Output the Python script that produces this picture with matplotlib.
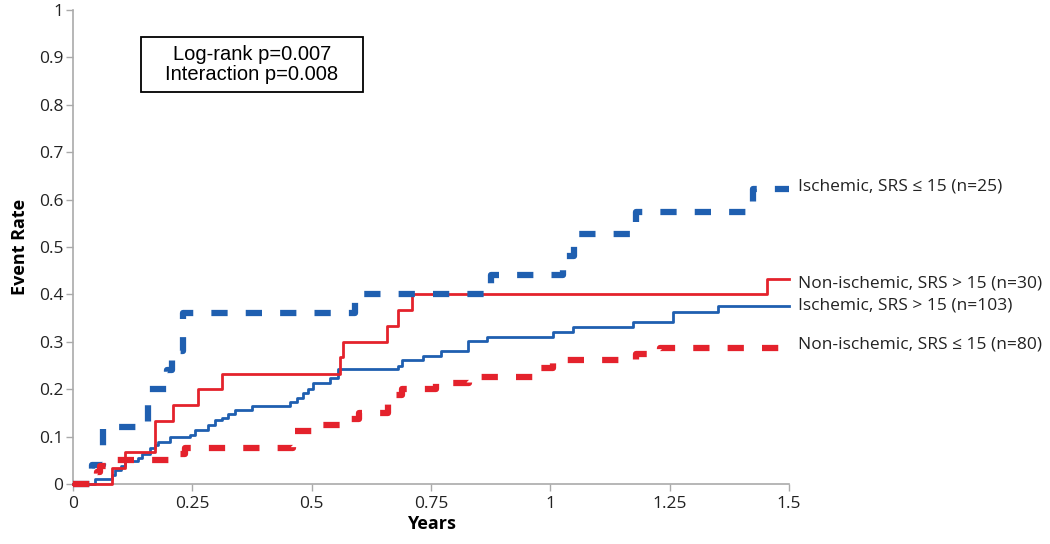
import numpy as np
import matplotlib

matplotlib.use("Agg")
import matplotlib.pyplot as plt  # noqa: E402
from matplotlib.patches import Rectangle  # noqa: E402

# ---------------------------------------------------------------- data
isch_low_x = [0, 0.04, 0.063, 0.157, 0.197, 0.207, 0.23, 0.59, 0.875, 1.027, 1.05, 1.18, 1.425, 1.5]
isch_low_y = [0, 0.04, 0.12, 0.20, 0.24, 0.28, 0.36, 0.40, 0.44, 0.48, 0.527, 0.573, 0.622, 0.622]

nonisch_high_x = [0, 0.082, 0.109, 0.172, 0.21, 0.262, 0.312, 0.56, 0.566, 0.658, 0.68, 0.71, 1.455, 1.5]
nonisch_high_y = [0, 0.033, 0.067, 0.133, 0.167, 0.20, 0.233, 0.267, 0.30, 0.333, 0.367, 0.40, 0.433, 0.433]

isch_high_x = [0, 0.046, 0.082, 0.088, 0.10, 0.109, 0.136, 0.145, 0.161, 0.172, 0.178, 0.203,
               0.245, 0.256, 0.283, 0.298, 0.312, 0.325, 0.34, 0.375, 0.455, 0.47, 0.482, 0.493,
               0.503, 0.539, 0.556, 0.68, 0.69, 0.733, 0.77, 0.828, 0.867, 1.006, 1.048, 1.174,
               1.256, 1.352, 1.5]
isch_high_y = [0, 0.01, 0.019, 0.03, 0.039, 0.049, 0.055, 0.064, 0.076, 0.082, 0.089, 0.099,
               0.103, 0.114, 0.124, 0.135, 0.139, 0.148, 0.156, 0.165, 0.173, 0.181, 0.192, 0.20,
               0.213, 0.224, 0.243, 0.25, 0.262, 0.27, 0.28, 0.302, 0.31, 0.32, 0.331, 0.342,
               0.363, 0.375, 0.375]

nonisch_low_x = [0, 0.05, 0.057, 0.09, 0.205, 0.235, 0.46, 0.518, 0.566, 0.60, 0.66, 0.69,
                 0.76, 0.83, 0.965, 1.006, 1.18, 1.23, 1.5]
nonisch_low_y = [0, 0.025, 0.0375, 0.05, 0.0625, 0.075, 0.1125, 0.125, 0.1375, 0.15, 0.1875,
                 0.20, 0.2125, 0.225, 0.245, 0.2625, 0.275, 0.2875, 0.2875]

labels = ["Ischemic, SRS \u2264 15 (n=25)", "Non-ischemic, SRS > 15 (n=30)",
          "Ischemic, SRS > 15 (n=103)", "Non-ischemic, SRS \u2264 15 (n=80)"]
label_y = [0.628, 0.424, 0.376, 0.295]

stats_text = "Log-rank p=0.007\nInteraction p=0.008"

x_ticks = [0, 0.25, 0.5, 0.75, 1, 1.25, 1.5]
x_ticklabels = ["0", "0.25", "0.5", "0.75", "1", "1.25", "1.5"]
y_ticks = [0, 0.1, 0.2, 0.3, 0.4, 0.5, 0.6, 0.7, 0.8, 0.9, 1]
y_ticklabels = ["0", "0.1", "0.2", "0.3", "0.4", "0.5", "0.6", "0.7", "0.8", "0.9", "1"]

BLUE = "#1f5fb0"
RED = "#e4222c"
FONT = "Open Sans"

fig = plt.figure(figsize=(10.5, 5.44), dpi=100)
ax = fig.add_axes([0.0695, 0.1103, 0.6819, 0.8713])

ax.step(isch_high_x, isch_high_y, where="post", color=BLUE, lw=2.0, clip_on=False, zorder=3)
ax.step(nonisch_high_x, nonisch_high_y, where="post", color=RED, lw=2.0, clip_on=False, zorder=4)
l1, = ax.step(isch_low_x, isch_low_y, where="post", color=BLUE, lw=4.5, clip_on=False, zorder=5)
l1.set_dashes((2.6, 2.9))
l2, = ax.step(nonisch_low_x, nonisch_low_y, where="post", color=RED, lw=4.5, clip_on=False, zorder=5)
l2.set_dashes((2.6, 2.9))

for lab, yy in zip(labels, label_y):
    ax.text(1.518, yy, lab, fontsize=12.5, family=FONT, color="#222222",
            va="center", ha="left", clip_on=False)

# stats box
ax.add_patch(Rectangle((0.095, 0.827), 0.31, 0.116, transform=ax.transAxes,
                       fc="white", ec="black", lw=1.3, zorder=6))
ax.text(0.25, 0.885, stats_text, transform=ax.transAxes, fontsize=14.5,
        family="Liberation Sans", ha="center", va="center", linespacing=1.1, zorder=7)

ax.set_xlim(0, 1.5)
ax.set_ylim(0, 1)
ax.set_xticks(x_ticks)
ax.set_xticklabels(x_ticklabels, family=FONT, fontsize=12.5, color="#222222")
ax.set_yticks(y_ticks)
ax.set_yticklabels(y_ticklabels, family=FONT, fontsize=12.5, color="#222222")
ax.tick_params(axis="both", color="#aaaaaa", length=5, width=1)
ax.tick_params(axis="y", pad=2)
for s in ("top", "right"):
    ax.spines[s].set_visible(False)
for s in ("left", "bottom"):
    ax.spines[s].set_color("#aaaaaa")
    ax.spines[s].set_linewidth(1.2)

ax.set_xlabel("Years", family=FONT, fontsize=13, fontweight="bold", labelpad=2)
ax.set_ylabel("Event Rate", family=FONT, fontsize=13, fontweight="bold", labelpad=7)

fig.savefig("out.png", dpi=100)
